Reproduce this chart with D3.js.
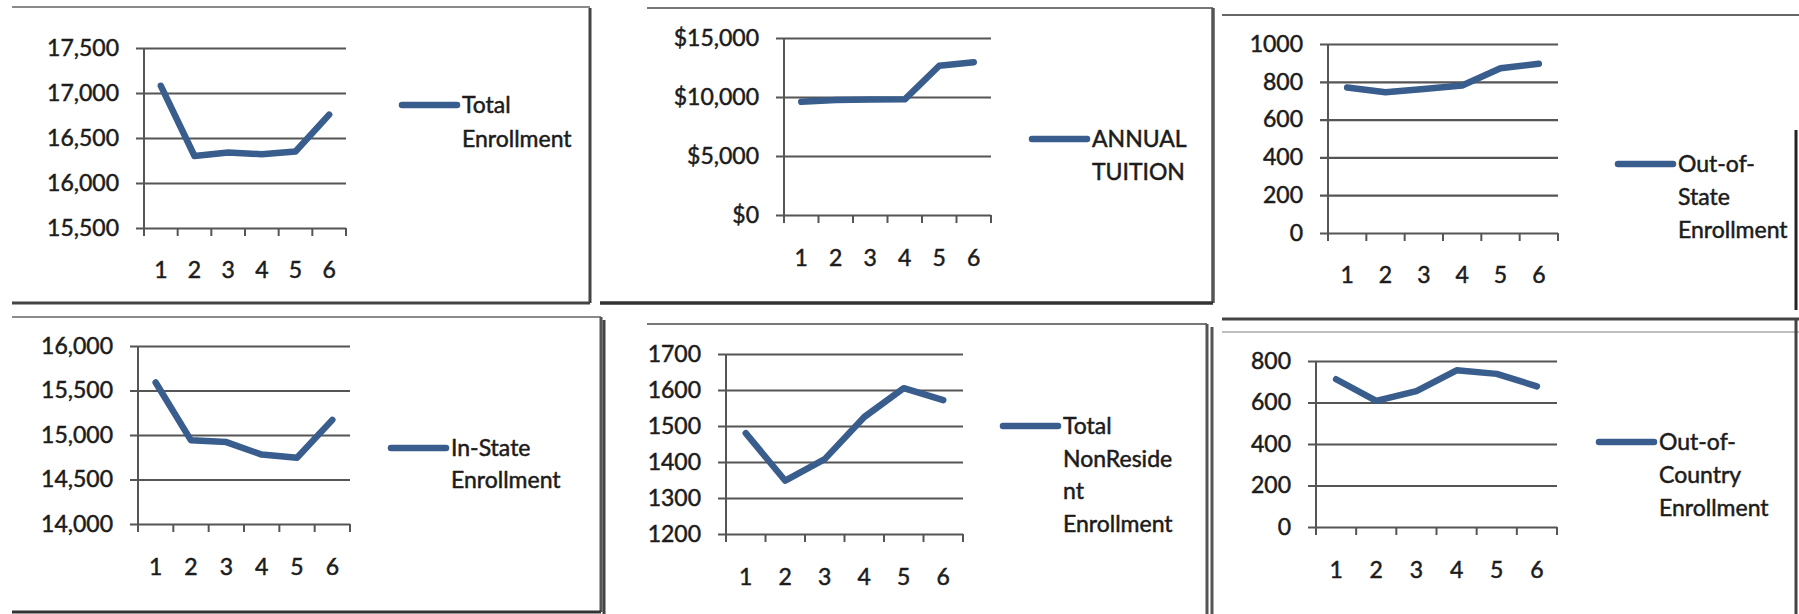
<!DOCTYPE html>
<html>
<head>
<meta charset="utf-8">
<script src="https://cdn.jsdelivr.net/npm/d3@7"></script>
<style>
  html, body { margin: 0; padding: 0; background: #fff; }
  svg { display: block; }
  text { font-family: Lato, "Open Sans", sans-serif; fill: #1c1c1c; }
</style>
</head>
<body>
<div id="chart"></div>
<script>
// data
const categories = [1, 2, 3, 4, 5, 6];

const totalEnrollment = [17080, 16300, 16340, 16320, 16350, 16760];
const annualTuition = [9600, 9750, 9780, 9800, 12650, 12950];
const outOfStateEnrollment = [770, 745, 762, 780, 872, 895];
const inStateEnrollment = [15590, 14940, 14920, 14780, 14745, 15170];
const nonResidentEnrollment = [1480, 1348, 1408, 1525, 1605, 1572];
const outOfCountryEnrollment = [712, 608, 655, 755, 738, 678];

const totalTicks = [15500, 16000, 16500, 17000, 17500];
const tuitionTicks = [0, 5000, 10000, 15000];
const outOfStateTicks = [0, 200, 400, 600, 800, 1000];
const inStateTicks = [14000, 14500, 15000, 15500, 16000];
const nonResidentTicks = [1200, 1300, 1400, 1500, 1600, 1700];
const outOfCountryTicks = [0, 200, 400, 600, 800];

const totalLegend = ["Total", "Enrollment"];
const tuitionLegend = ["ANNUAL", "TUITION"];
const outOfStateLegend = ["Out-of-", "State", "Enrollment"];
const inStateLegend = ["In-State", "Enrollment"];
const nonResidentLegend = ["Total", "NonReside", "nt", "Enrollment"];
const outOfCountryLegend = ["Out-of-", "Country", "Enrollment"];

const width = 1799;
const height = 614;
const lineColor = "#395d8c";
const fontSize = "23px";

const svg = d3.select("#chart").append("svg")
  .attr("width", width)
  .attr("height", height);

// edges of the pasted chart boxes (scan keeps only some of them)
const edges = [
  // top-left box
  { x1: 12, y1: 7, x2: 590, y2: 7, c: "#8a8a8a", w: 2 },
  { x1: 590, y1: 8, x2: 590, y2: 303, c: "#444", w: 3 },
  { x1: 12, y1: 303, x2: 590, y2: 303, c: "#444", w: 3 },
  // top-middle box
  { x1: 647, y1: 8, x2: 1213, y2: 8, c: "#777", w: 2 },
  { x1: 1213, y1: 8, x2: 1213, y2: 303, c: "#555", w: 3.5 },
  { x1: 600, y1: 303, x2: 1213, y2: 303, c: "#333", w: 3.5 },
  // top-right box
  { x1: 1222, y1: 15, x2: 1799, y2: 15, c: "#666", w: 2 },
  { x1: 1796, y1: 130, x2: 1796, y2: 310, c: "#222", w: 3 },
  // bottom-left box
  { x1: 12, y1: 317, x2: 601, y2: 317, c: "#8a8a8a", w: 2 },
  { x1: 601, y1: 317, x2: 601, y2: 612, c: "#555", w: 3 },
  { x1: 12, y1: 612, x2: 601, y2: 612, c: "#333", w: 3 },
  // bottom-middle box
  { x1: 604, y1: 320, x2: 604, y2: 614, c: "#444", w: 3 },
  { x1: 647, y1: 324, x2: 1207, y2: 324, c: "#777", w: 2 },
  { x1: 1207, y1: 324, x2: 1207, y2: 614, c: "#555", w: 3 },
  // bottom-right box
  { x1: 1222, y1: 319, x2: 1799, y2: 319, c: "#444", w: 3 },
  { x1: 1222, y1: 332, x2: 1799, y2: 332, c: "#aaa", w: 1.5 },
  { x1: 1212, y1: 327, x2: 1212, y2: 614, c: "#555", w: 3 },
  { x1: 1796, y1: 320, x2: 1796, y2: 614, c: "#444", w: 3 }
];

svg.selectAll("line.edge")
  .data(edges)
  .enter()
  .append("line")
  .attr("class", "edge")
  .attr("x1", d => d.x1).attr("y1", d => d.y1)
  .attr("x2", d => d.x2).attr("y2", d => d.y2)
  .attr("stroke", d => d.c)
  .attr("stroke-width", d => d.w);

const panels = [
  { values: totalEnrollment, ticks: totalTicks, fmt: d3.format(","), legend: totalLegend,
    x0: 144, x1: 346, yTop: 48, yBottom: 228, xLabelY: 270,
    legendX: 402, legendY: 105, lineH: 34 },
  { values: annualTuition, ticks: tuitionTicks, fmt: d => "$" + d3.format(",")(d), legend: tuitionLegend,
    x0: 784, x1: 991, yTop: 38, yBottom: 215, xLabelY: 258,
    legendX: 1032, legendY: 139, lineH: 33 },
  { values: outOfStateEnrollment, ticks: outOfStateTicks, fmt: d3.format("d"), legend: outOfStateLegend,
    x0: 1328, x1: 1558, yTop: 44, yBottom: 233, xLabelY: 275,
    legendX: 1618, legendY: 164, lineH: 33 },
  { values: inStateEnrollment, ticks: inStateTicks, fmt: d3.format(","), legend: inStateLegend,
    x0: 138, x1: 350, yTop: 346, yBottom: 524, xLabelY: 567,
    legendX: 391, legendY: 448, lineH: 32 },
  { values: nonResidentEnrollment, ticks: nonResidentTicks, fmt: d3.format("d"), legend: nonResidentLegend,
    x0: 726, x1: 963, yTop: 354, yBottom: 534, xLabelY: 577,
    legendX: 1003, legendY: 426, lineH: 32.5 },
  { values: outOfCountryEnrollment, ticks: outOfCountryTicks, fmt: d3.format("d"), legend: outOfCountryLegend,
    x0: 1316, x1: 1557, yTop: 361, yBottom: 527, xLabelY: 570,
    legendX: 1599, legendY: 442, lineH: 33 }
];

panels.forEach(drawPanel);

function styleText(sel) {
  sel.style("font-size", fontSize)
    .attr("fill", "#1c1c1c")
    .attr("stroke", "#1c1c1c")
    .attr("stroke-width", 0.5);
}

function drawPanel(p) {
  const g = svg.append("g");

  const x = d3.scaleBand().domain(categories).range([p.x0, p.x1]);
  const y = d3.scaleLinear()
    .domain(d3.extent(p.ticks))
    .range([p.yBottom, p.yTop]);

  // gridlines + y labels
  const yAxis = d3.axisLeft(y)
    .tickValues(p.ticks)
    .tickFormat(p.fmt)
    .tickSizeOuter(0);

  const yG = g.append("g")
    .attr("transform", `translate(${p.x0}, 0)`)
    .call(yAxis);
  yG.select(".domain").remove();
  yG.selectAll(".tick line")
    .attr("x1", -8)
    .attr("x2", p.x1 - p.x0)
    .attr("stroke", "#555")
    .attr("stroke-width", 2.2);
  yG.selectAll(".tick text")
    .attr("x", -25)
    .call(styleText);

  // vertical axis line
  g.append("line")
    .attr("x1", p.x0).attr("x2", p.x0)
    .attr("y1", p.yTop).attr("y2", p.yBottom + 8)
    .attr("stroke", "#555")
    .attr("stroke-width", 2);

  // category tick marks between categories
  const bounds = categories.map(c => x(c)).concat([p.x1]);
  g.selectAll("line.xtick")
    .data(bounds)
    .enter()
    .append("line")
    .attr("class", "xtick")
    .attr("x1", d => d).attr("x2", d => d)
    .attr("y1", p.yBottom).attr("y2", p.yBottom + 8)
    .attr("stroke", "#555")
    .attr("stroke-width", 2);

  // x labels
  const xAxis = d3.axisBottom(x).tickSize(0).tickPadding(0);
  const xG = g.append("g")
    .attr("transform", `translate(0, ${p.xLabelY})`)
    .call(xAxis);
  xG.select(".domain").remove();
  xG.selectAll(".tick text")
    .attr("dy", "0.35em")
    .attr("y", 0)
    .call(styleText);

  // series line
  const line = d3.line()
    .x((d, i) => x(categories[i]) + x.bandwidth() / 2)
    .y(d => y(d));

  g.append("path")
    .datum(p.values)
    .attr("d", line)
    .attr("fill", "none")
    .attr("stroke", lineColor)
    .attr("stroke-width", 6.5)
    .attr("stroke-linejoin", "round")
    .attr("stroke-linecap", "round");

  // legend
  g.append("line")
    .attr("x1", p.legendX).attr("x2", p.legendX + 55)
    .attr("y1", p.legendY).attr("y2", p.legendY)
    .attr("stroke", lineColor)
    .attr("stroke-width", 6.5)
    .attr("stroke-linecap", "round");

  g.append("text")
    .attr("x", p.legendX + 60)
    .attr("y", p.legendY)
    .call(styleText)
    .selectAll("tspan")
    .data(p.legend)
    .enter()
    .append("tspan")
    .attr("x", p.legendX + 60)
    .attr("y", (d, i) => p.legendY + i * p.lineH)
    .attr("dy", "0.35em")
    .text(d => d);
}
</script>
</body>
</html>
